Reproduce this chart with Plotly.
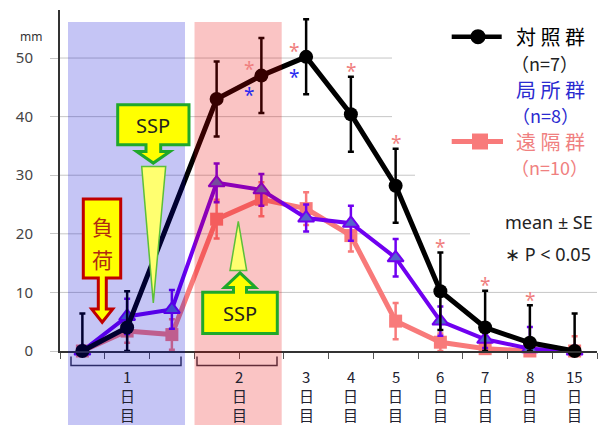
import plotly.graph_objects as go

# ---------------- data ----------------
# 12 time points: three on day 1, two on day 2, then days 3-8 and 15
time_points = ["1日目a", "1日目b", "1日目c", "2日目a", "2日目b",
               "3日目", "4日目", "5日目", "6日目", "7日目", "8日目", "15日目"]
control    = [0, 4.0, None, 43.0, 47.0, 50.2, 40.4, 28.2, 10.2, 4.0, 1.4, 0]
control_se = [6.4, 6.2, None, 6.4, 6.4, 6.4, 6.4, 6.3, 6.6, 6.3, 6.4, 6.4]
local      = [0, 5.9, 7.1, 28.7, 27.5, 22.7, 21.8, 15.9, 5.1, 2.0, 0.4, 0]
local_se   = [0, 3.0, 3.3, 3.3, 2.7, 2.3, 3.0, 3.2, 2.5, 1.5, 3.7, 0.5]
distal     = [0, 3.4, 2.8, 22.5, 25.9, 24.3, 19.7, 5.1, 1.5, 0.4, 0, 0]
distal_se  = [0, 2.0, 2.6, 3.3, 2.9, 2.8, 2.7, 3.1, 1.5, 0.8, 0.5, 2.5]

sig_local = [4, 5]                    # local vs control, P<0.05
sig_distal = [4, 5, 6, 7, 8, 9, 10]   # distal vs control, P<0.05

tick_pos = [1, 3.5, 5, 6, 7, 8, 9, 10, 11]
tick_text = ["1<br>日<br>目", "2<br>日<br>目", "3<br>日<br>目", "4<br>日<br>目",
             "5<br>日<br>目", "6<br>日<br>目", "7<br>日<br>目", "8<br>日<br>目",
             "15<br>日<br>目"]
y_ticks = [0, 10, 20, 30, 40, 50]

# ---------------- styling ----------------
BLACK = "#000000"
PURPLE = "#7000f0"
TRI_FILL = "#5464cc"
PINK = "#f87a7a"
PINK_TXT = "#f08080"
BLUE_TXT = "#2a2ad0"
JP = "Noto Sans CJK JP, Noto Sans, sans-serif"
LAT = "Noto Sans, Liberation Sans, sans-serif"

# the page has an 8px body margin; figure covers page (8..616, 8..425)
OFF = 8
W, H = 616 - OFF, 425 - OFF
PLOT_L, PLOT_R, PLOT_T, PLOT_B = 60, 597, 10, 351.5     # page pixels of plot area
L, T = PLOT_L - OFF, PLOT_T - OFF
R, B = W - (PLOT_R - OFF), H - (PLOT_B - OFF)
PW, PH = PLOT_R - PLOT_L, PLOT_B - PLOT_T
YMAX = 58.2

def px(x):
    return (x - PLOT_L) / PW

def py(y):
    return (PLOT_B - y) / PH

def poly(points):
    return "M " + " L ".join(f"{px(a):.5f},{py(b):.5f}" for a, b in points) + " Z"

xs = list(range(len(time_points)))

def minus(vals, ses):
    return [None if v is None else min(s, v) for v, s in zip(vals, ses)]

fig = go.Figure()

fig.add_trace(go.Scatter(
    x=xs, y=distal, mode="lines+markers", connectgaps=True, cliponaxis=False,
    line=dict(color=PINK, width=5),
    marker=dict(symbol="square", size=13, color=PINK),
    error_y=dict(type="data", array=distal_se, arrayminus=minus(distal, distal_se),
                 color=PINK, thickness=2.5, width=3),
    showlegend=False, hoverinfo="skip"))

fig.add_trace(go.Scatter(
    x=xs, y=local, mode="lines+markers", connectgaps=True, cliponaxis=False,
    line=dict(color=PURPLE, width=4),
    marker=dict(symbol="triangle-up", size=14, color=TRI_FILL,
                line=dict(color=PURPLE, width=2)),
    error_y=dict(type="data", array=local_se, arrayminus=minus(local, local_se),
                 color=PURPLE, thickness=2.5, width=3),
    showlegend=False, hoverinfo="skip"))

fig.add_trace(go.Scatter(
    x=xs, y=control, mode="lines+markers", connectgaps=True, cliponaxis=False,
    line=dict(color=BLACK, width=5),
    marker=dict(symbol="circle", size=14, color=BLACK),
    error_y=dict(type="data", array=control_se, arrayminus=minus(control, control_se),
                 color=BLACK, thickness=2.5, width=3),
    showlegend=False, hoverinfo="skip"))

shapes = []
# gridlines (cut off by the legend area at the right)
grid_end = {10: 597, 20: 470, 30: 415, 40: 392, 50: 392}
for v in y_ticks[1:]:
    yp = v / YMAX
    shapes.append(dict(type="line", xref="paper", yref="paper", x0=0, x1=px(grid_end[v]),
                       y0=yp, y1=yp, line=dict(color="#c6c6c6", width=1), layer="below"))

# day brackets
for a, b in [(71, 181), (197, 277)]:
    shapes.append(dict(type="path", xref="paper", yref="paper",
                       path=f"M {px(a):.5f},{py(357):.5f} L {px(a):.5f},{py(366):.5f} "
                            f"L {px(b):.5f},{py(366):.5f} L {px(b):.5f},{py(357):.5f}",
                       line=dict(color="#3a3a4a", width=1.5), layer="above"))

# translucent day shading (drawn above the data, as in the original)
shapes.append(dict(type="rect", xref="paper", yref="paper", x0=px(68), x1=px(185),
                   y0=py(430), y1=py(22), fillcolor="rgba(0,0,211,0.227)",
                   line=dict(width=0), layer="above"))
shapes.append(dict(type="rect", xref="paper", yref="paper", x0=px(194.5), x1=px(281.7),
                   y0=py(430), y1=py(22), fillcolor="rgba(234,0,0,0.231)",
                   line=dict(width=0), layer="above"))

GREEN = "#1fa82a"
# top SSP callout
shapes.append(dict(type="path", xref="paper", yref="paper", layer="above",
                   path=poly([(117.7, 105), (189, 105), (189, 145), (160.7, 145), (160.7, 151.7),
                              (170, 151.7), (153.3, 163.3), (136.7, 151.7), (146, 151.7),
                              (146, 145), (117.7, 145)]),
                   fillcolor="#ffff00", line=dict(color=GREEN, width=3)))
shapes.append(dict(type="path", xref="paper", yref="paper", layer="above",
                   path=poly([(141.7, 166.7), (165.7, 166.7), (153.3, 303.3)]),
                   fillcolor="#ffff70", line=dict(color="#5cbf3a", width=1.5)))
# load callout
shapes.append(dict(type="path", xref="paper", yref="paper", layer="above",
                   path=poly([(83.3, 199.3), (120.7, 199.3), (120.7, 278.3), (106.3, 278.3),
                              (106.3, 309.5), (112.7, 309.5), (102.2, 322.7), (91.7, 309.5),
                              (98.3, 309.5), (98.3, 278.3), (83.3, 278.3)]),
                   fillcolor="#ffff00", line=dict(color="#c00000", width=3)))
# bottom SSP callout
shapes.append(dict(type="path", xref="paper", yref="paper", layer="above",
                   path=poly([(202.7, 334), (277.3, 334), (277.3, 292.7), (246.5, 292.7),
                              (246.5, 287.8), (255.5, 287.8), (240, 273.3), (224.5, 287.8),
                              (233.5, 287.8), (233.5, 292.7), (202.7, 292.7)]),
                   fillcolor="#ffff00", line=dict(color=GREEN, width=3)))
shapes.append(dict(type="path", xref="paper", yref="paper", layer="above",
                   path=poly([(238.3, 221.7), (246.7, 271), (230, 271)]),
                   fillcolor="#ffff70", line=dict(color="#5cbf3a", width=1.5)))

# legend symbols
shapes.append(dict(type="line", xref="paper", yref="paper", x0=px(451.7), x1=px(501.7),
                   y0=py(36.7), y1=py(36.7), line=dict(color=BLACK, width=4.5), layer="above"))
shapes.append(dict(type="circle", xref="paper", yref="paper", x0=px(470.5), x1=px(485.5),
                   y0=py(44.2), y1=py(29.2), fillcolor=BLACK, line=dict(width=0), layer="above"))
shapes.append(dict(type="line", xref="paper", yref="paper", x0=px(451.7), x1=px(503),
                   y0=py(141.7), y1=py(141.7), line=dict(color=PINK, width=5), layer="above"))
shapes.append(dict(type="rect", xref="paper", yref="paper", x0=px(472), x1=px(488),
                   y0=py(149.7), y1=py(133.7), fillcolor=PINK, line=dict(width=0), layer="above"))

ann = []
def txt(x, y, s, size, color, family=JP, xanchor="center"):
    ann.append(dict(xref="paper", yref="paper", x=px(x), y=py(y), text=s, showarrow=False,
                    xanchor=xanchor, yanchor="middle",
                    font=dict(size=size, color=color, family=family)))

txt(153.3, 125.5, "SSP", 20, "#222222", LAT)
txt(240, 314, "SSP", 20, "#222222", LAT)
txt(102, 226, "負", 21, "#b02a10")
txt(102, 259, "荷", 21, "#b02a10")

txt(550, 36.7, "対 照 群", 20, BLACK)
txt(544, 63.3, "（n=7）", 18, "#222222")
txt(550, 90, "局 所 群", 20, BLUE_TXT)
txt(545, 115.5, "（n=8）", 18, BLUE_TXT)
txt(550, 141.7, "遠 隔 群", 20, PINK_TXT)
txt(549, 167.3, "（n=10）", 18, PINK_TXT)
txt(503, 222.3, "mean ± SE", 18, "#222222", LAT, "left")
txt(503, 254.3, "∗ P < 0.05", 18, "#222222", LAT, "left")
txt(31, 37, "mm", 12, "#333333", LAT)

# day labels under the axis, written vertically (one line per character group)
line_y = [377, 396.5, 415]
for pos, label in zip(tick_pos, tick_text):
    for yy, part in zip(line_y, label.split("<br>")):
        ann.append(dict(xref="x", yref="paper", x=pos, y=py(yy), text=part, showarrow=False,
                        xanchor="center", yanchor="middle",
                        font=dict(size=15, color="#222230", family=JP)))

# significance asterisks
for i in sig_distal:
    if i in sig_local:
        xa, ya = i - 0.27, control[i] + 1.9
    else:
        xa, ya = i, control[i] + control_se[i] + 1.8
    ann.append(dict(xref="x", yref="y", x=xa, y=ya, text="*", showarrow=False,
                    yshift=-5, font=dict(size=19, color=PINK_TXT, family=LAT)))
for i in sig_local:
    ann.append(dict(xref="x", yref="y", x=i - 0.27, y=control[i] - 2.5, text="*",
                    showarrow=False, yshift=-5, font=dict(size=19, color="#2a2af0", family=LAT)))

fig.update_layout(
    width=W, height=H, margin=dict(l=L, r=R, t=T, b=B, pad=0),
    paper_bgcolor="white", plot_bgcolor="white",
    shapes=shapes, annotations=ann, showlegend=False,
    xaxis=dict(range=[-0.5, len(time_points) - 0.5], tickmode="array",
               tickvals=[k - 0.5 for k in range(len(time_points) + 1)],
               showticklabels=False, ticks="outside", ticklen=6, tickcolor="#555555",
               tickwidth=1, showgrid=False, zeroline=False,
               showline=True, linecolor="#333333", linewidth=2),
    yaxis=dict(range=[0, YMAX], tickmode="array", tickvals=y_ticks,
               ticks="outside", ticklen=8, tickcolor="#c6c6c6", tickwidth=1,
               ticklabelstandoff=14,
               showgrid=False, zeroline=False, showline=True, linecolor="#333333",
               linewidth=2, tickfont=dict(size=15, color="#444444", family=LAT)),
)

fig.write_html("out.html")
